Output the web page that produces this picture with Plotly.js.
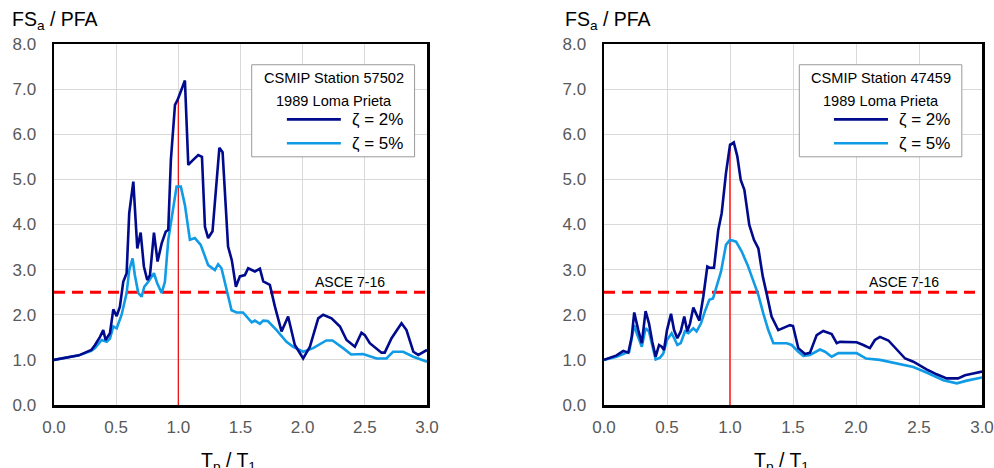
<!DOCTYPE html>
<html>
<head>
<meta charset="utf-8">
<script src="https://cdn.plot.ly/plotly-3.0.1.min.js"></script>
<style>html,body{margin:0;padding:0;background:#fff;}#chart{width:994px;height:468px;}</style>
</head>
<body>
<div id="chart"></div>
<script>
// ---- Data ----
// Left panel: CSMIP Station 57502, 1989 Loma Prieta
const leftX2 = [0,0.1,0.2,0.3,0.33,0.37,0.396,0.415,0.45,0.477,0.504,0.53,0.557,0.584,0.605,0.638,0.67,0.697,0.723,0.75,0.772,0.804,0.833,0.866,0.898,0.919,0.94,0.973,0.994,1.053,1.08,1.115,1.16,1.19,1.214,1.24,1.275,1.33,1.356,1.40,1.43,1.463,1.495,1.535,1.562,1.616,1.656,1.683,1.736,1.777,1.83,1.883,1.937,2.004,2.058,2.125,2.165,2.232,2.3,2.353,2.42,2.473,2.5,2.54,2.594,2.634,2.66,2.715,2.795,2.835,2.89,2.93,3.0];
const leftY2 = [1.0,1.05,1.1,1.22,1.33,1.51,1.66,1.44,1.59,2.12,1.97,2.18,2.73,2.92,4.25,4.95,3.47,3.82,3.07,2.77,2.88,3.82,3.18,3.58,3.84,3.88,5.43,6.65,6.76,7.19,5.32,5.42,5.54,5.5,3.95,3.7,3.85,5.7,5.6,3.51,3.21,2.62,2.85,2.88,3.03,2.96,3.02,2.74,2.66,2.18,1.63,1.96,1.33,1.03,1.29,1.92,2.0,1.92,1.74,1.44,1.29,1.6,1.55,1.37,1.26,1.16,1.16,1.48,1.81,1.66,1.18,1.11,1.22];
const leftX5 = [0,0.1,0.2,0.3,0.33,0.383,0.424,0.45,0.477,0.504,0.544,0.584,0.605,0.632,0.65,0.678,0.705,0.726,0.758,0.804,0.83,0.866,0.892,0.919,0.959,0.986,1.02,1.053,1.093,1.133,1.18,1.24,1.294,1.32,1.347,1.428,1.468,1.52,1.59,1.616,1.656,1.683,1.72,1.79,1.87,1.924,2.004,2.084,2.19,2.24,2.325,2.39,2.486,2.594,2.674,2.727,2.808,2.89,3.0];
const leftY5 = [1.0,1.05,1.1,1.2,1.26,1.44,1.4,1.47,1.74,1.7,2.0,2.48,2.99,3.25,2.88,2.48,2.4,2.62,2.73,2.92,2.7,2.48,2.73,3.66,4.32,4.84,4.84,4.43,3.66,3.7,3.55,3.1,2.99,3.12,3.03,2.1,2.05,2.05,1.83,1.87,1.8,1.87,1.86,1.66,1.4,1.29,1.18,1.26,1.43,1.43,1.26,1.12,1.13,1.03,1.03,1.18,1.18,1.07,0.96];
// Right panel: CSMIP Station 47459, 1989 Loma Prieta
const rightX2 = [0,0.1,0.153,0.193,0.22,0.24,0.272,0.3,0.33,0.357,0.383,0.41,0.437,0.458,0.476,0.5,0.532,0.556,0.582,0.609,0.637,0.661,0.683,0.709,0.73,0.757,0.788,0.82,0.84,0.873,0.907,0.934,0.968,1.0,1.03,1.058,1.085,1.114,1.153,1.19,1.225,1.26,1.29,1.33,1.383,1.423,1.476,1.5,1.542,1.595,1.635,1.688,1.74,1.807,1.847,1.873,2.005,2.058,2.11,2.15,2.19,2.257,2.323,2.39,2.455,2.56,2.64,2.72,2.81,2.865,2.93,3.0];
const rightY2 = [1.0,1.1,1.2,1.16,1.51,2.05,1.66,1.37,2.08,1.81,1.4,1.07,1.33,1.29,1.22,1.66,2.02,1.66,1.48,1.63,1.96,1.63,1.81,2.16,2.03,1.87,2.4,3.07,3.04,3.04,3.88,4.25,5.14,5.76,5.82,5.51,4.99,4.77,3.99,3.66,3.47,2.85,2.48,1.96,1.66,1.7,1.77,1.75,1.26,1.13,1.16,1.55,1.64,1.57,1.37,1.4,1.39,1.33,1.26,1.44,1.51,1.43,1.22,1.03,0.96,0.79,0.68,0.59,0.59,0.66,0.7,0.74];
const rightX5 = [0,0.1,0.18,0.2,0.24,0.26,0.3,0.33,0.357,0.383,0.41,0.445,0.47,0.5,0.537,0.564,0.582,0.609,0.642,0.669,0.709,0.735,0.77,0.8,0.836,0.865,0.894,0.929,0.968,1.0,1.048,1.093,1.14,1.185,1.225,1.264,1.304,1.344,1.4,1.45,1.49,1.542,1.582,1.635,1.714,1.754,1.807,1.86,2.005,2.08,2.19,2.323,2.455,2.56,2.693,2.8,2.88,3.0];
const rightY5 = [1.0,1.07,1.16,1.18,1.77,1.59,1.29,1.7,1.63,1.33,1.01,1.05,1.14,1.44,1.59,1.44,1.33,1.37,1.63,1.59,1.7,1.63,1.81,2.07,2.33,2.36,2.62,2.96,3.55,3.66,3.62,3.4,3.1,2.77,2.44,2.03,1.66,1.37,1.37,1.37,1.33,1.18,1.09,1.11,1.23,1.18,1.07,1.15,1.15,1.03,1.0,0.92,0.84,0.72,0.55,0.48,0.54,0.61];

const asceLevel = 2.5;          // ASCE 7-16 FSa/PFA
const asceX = [0, 3];
const resonanceX = 1.0;         // Tp/T1 = 1
const leftPeakAtOne = 6.76;
const rightPeakAtOne = 5.8;

const stationLeft = ["CSMIP Station 57502", "1989 Loma Prieta"];
const stationRight = ["CSMIP Station 47459", "1989 Loma Prieta"];
const seriesNames = ["ζ = 2%", "ζ = 5%"];
const xTicks = [0, 0.5, 1.0, 1.5, 2.0, 2.5, 3.0];
const yTicks = [0, 1, 2, 3, 4, 5, 6, 7, 8];

// ---- Styles ----
const DARK = "#000a8c";
const LIGHT = "#0f9be6";
const RED = "#ff0000";
const FONT = "Liberation Sans, Arial, sans-serif";

function panelTraces(xa, ya, x2, y2, x5, y5, peak, vcolor, vwidth) {
  return [
    {x: asceX, y: [asceLevel, asceLevel], xaxis: xa, yaxis: ya, mode: "lines",
     line: {color: RED, width: 3, dash: "11px,7px"}, hoverinfo: "skip", showlegend: false},
    {x: [resonanceX, resonanceX], y: [0, peak], xaxis: xa, yaxis: ya, mode: "lines",
     line: {color: vcolor, width: vwidth}, hoverinfo: "skip", showlegend: false},
    {x: x5, y: y5, xaxis: xa, yaxis: ya, mode: "lines", name: seriesNames[1],
     line: {color: LIGHT, width: 2.6}, showlegend: false},
    {x: x2, y: y2, xaxis: xa, yaxis: ya, mode: "lines", name: seriesNames[0],
     line: {color: DARK, width: 2.6}, showlegend: false}
  ];
}

const data = [].concat(
  panelTraces("x", "y", leftX2, leftY2, leftX5, leftY5, leftPeakAtOne, "#ee1111", 1.3),
  panelTraces("x2", "y2", rightX2, rightY2, rightX5, rightY5, rightPeakAtOne, "#ff4a4a", 2)
);

function xAxis(dom, anchor) {
  return {domain: dom, anchor: anchor, range: [0, 3], tickvals: xTicks, tickformat: ".1f",
    showgrid: true, gridcolor: "#d9d9d9", gridwidth: 1, zeroline: false,
    showline: true, mirror: true, linecolor: "#000", linewidth: 2.5,
    ticks: "", ticklabelstandoff: 5,
    tickfont: {family: FONT, size: 17, color: "#595959"}, fixedrange: true};
}
function yAxis(dom, anchor) {
  return {domain: dom, anchor: anchor, range: [0, 8], tickvals: yTicks, tickformat: ".1f",
    showgrid: true, gridcolor: "#d9d9d9", gridwidth: 1, zeroline: false,
    showline: true, mirror: true, linecolor: "#000", linewidth: 2.5,
    ticks: "", ticklabelstandoff: 12,
    tickfont: {family: FONT, size: 17, color: "#595959"}, fixedrange: true};
}

const W = 994, H = 468;
const yDom = [(H - 405) / H, (H - 44) / H];

function legendBits(xa, ya, box, sample, textX, titleX, station) {
  const shapes = [
    {type: "rect", xref: xa, yref: ya, x0: box[0], x1: box[1], y0: 5.5, y1: 7.54,
     fillcolor: "#fff", line: {color: "#9a9a9a", width: 1}, layer: "above"},
    {type: "line", xref: xa, yref: ya, x0: sample[0], x1: sample[1], y0: 6.33, y1: 6.33,
     line: {color: DARK, width: 2.6}, layer: "above"},
    {type: "line", xref: xa, yref: ya, x0: sample[0], x1: sample[1], y0: 5.80, y1: 5.80,
     line: {color: LIGHT, width: 2.6}, layer: "above"}
  ];
  const anns = [
    {xref: xa, yref: ya, x: titleX, y: 7.25, text: station[0], showarrow: false,
     font: {family: FONT, size: 14.6, color: "#000"}, xanchor: "center", yanchor: "middle"},
    {xref: xa, yref: ya, x: titleX, y: 6.74, text: station[1], showarrow: false,
     font: {family: FONT, size: 14.6, color: "#000"}, xanchor: "center", yanchor: "middle"},
    {xref: xa, yref: ya, x: textX, y: 6.33, text: seriesNames[0], showarrow: false,
     font: {family: FONT, size: 17, color: "#000"}, xanchor: "center", yanchor: "middle"},
    {xref: xa, yref: ya, x: textX, y: 5.80, text: seriesNames[1], showarrow: false,
     font: {family: FONT, size: 17, color: "#000"}, xanchor: "center", yanchor: "middle"},
    {xref: xa, yref: ya, x: 2.38, y: asceLevel, text: "ASCE 7-16", showarrow: false,
     font: {family: FONT, size: 14, color: "#000"}, xanchor: "center", yanchor: "bottom", yshift: 0}
  ];
  return {shapes, anns};
}

const L = legendBits("x", "y", [1.59, 2.90], [1.873, 2.307], 2.6, 2.25, stationLeft);
const R = legendBits("x2", "y2", [1.55, 2.84], [1.825, 2.254], 2.54, 2.2, stationRight);

const axisTitles = [
  {xref: "paper", yref: "paper", x: 10 / W, y: (H - 21) / H, xanchor: "left", yanchor: "middle",
   text: "FS<sub>a</sub> / PFA", showarrow: false, font: {family: FONT, size: 19.5, color: "#000"}},
  {xref: "paper", yref: "paper", x: 563 / W, y: (H - 21) / H, xanchor: "left", yanchor: "middle",
   text: "FS<sub>a</sub> / PFA", showarrow: false, font: {family: FONT, size: 19.5, color: "#000"}},
  {xref: "paper", yref: "paper", x: 228 / W, y: (H - 447) / H, xanchor: "center", yanchor: "top",
   text: "T<sub>p</sub> / T<sub>1</sub>", showarrow: false, font: {family: FONT, size: 19.5, color: "#000"}},
  {xref: "paper", yref: "paper", x: 781 / W, y: (H - 447) / H, xanchor: "center", yanchor: "top",
   text: "T<sub>p</sub> / T<sub>1</sub>", showarrow: false, font: {family: FONT, size: 19.5, color: "#000"}}
];

const layout = {
  width: W, height: H,
  margin: {l: 0, r: 0, t: 0, b: 0},
  paper_bgcolor: "#fff", plot_bgcolor: "#fff",
  showlegend: false,
  xaxis: xAxis([54 / W, 427 / W], "y"),
  yaxis: yAxis(yDom, "x"),
  xaxis2: xAxis([604 / W, 982 / W], "y2"),
  yaxis2: yAxis(yDom, "x2"),
  shapes: L.shapes.concat(R.shapes),
  annotations: L.anns.concat(R.anns, axisTitles)
};

Plotly.newPlot("chart", data, layout, {staticPlot: true, displayModeBar: false});
</script>
</body>
</html>
